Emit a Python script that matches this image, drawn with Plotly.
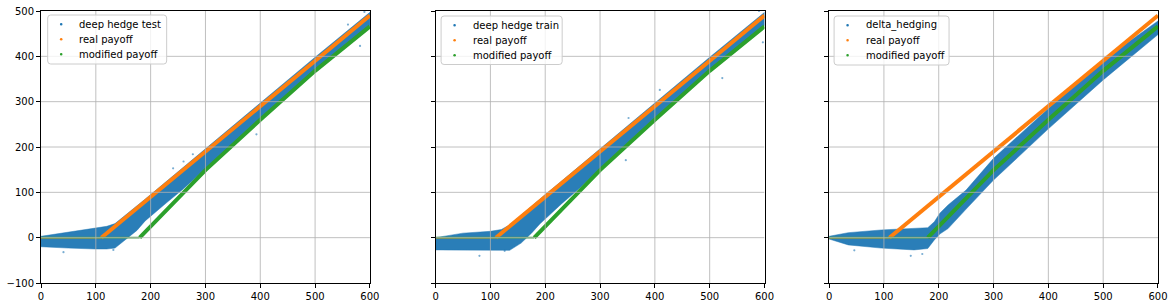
import plotly.graph_objects as go

# ---------------- data ----------------
X_TICKS = [0, 100, 200, 300, 400, 500, 600]
Y_TICKS = [-100, 0, 100, 200, 300, 400, 500]

TITLES = ["deep hedge test", "deep hedge train", "delta_hedging"]
SERIES_NAMES = ["real payoff", "modified payoff"]

# real payoff (orange)
REAL_X = [0, 110, 600]
REAL_Y = [0, 0, 490]

# modified payoff (green)
MOD_X = [0, 180, 200, 250, 300, 400, 500, 600]
MOD_Y = [0, 0, 25, 87, 149, 260, 368, 466]

# hedged P&L clouds: envelope of the blue scatter
TEST_X = [0, 50, 100, 120, 135, 156, 175, 190, 202, 230, 260, 300, 400, 500, 600]
TEST_UP = [3, 12, 20, 25, 31, 51, 70, 85, 97, 125, 155, 196, 297, 398, 497]
TEST_LO = [-20, -23, -25, -25, -23, -3, 16, 37, 50, 78, 108, 151, 262, 370, 468]
TEST_OUT_X = [241, 260, 277, 393, 582, 41, 132, 560, 590]
TEST_OUT_Y = [153, 168, 184, 228, 423, -32, -27, 470, 498]

TRAIN_X = [0, 50, 100, 120, 135, 156, 175, 190, 202, 230, 260, 300, 400, 500, 600]
TRAIN_UP = [0, 10, 14, 18, 28, 50, 70, 85, 97, 125, 155, 196, 297, 398, 497]
TRAIN_LO = [-27, -27, -27, -28, -28, -12, 10, 30, 45, 75, 106, 150, 262, 370, 468]
TRAIN_OUT_X = [80, 126, 347, 409, 352, 597, 523, 590]
TRAIN_OUT_Y = [-40, -29, 171, 326, 264, 431, 352, 500]

DELTA_X = [0, 35, 95, 155, 180, 192, 202, 217, 250, 300, 400, 500, 600]
DELTA_UP = [3, 11, 17, 21, 22, 35, 54, 72, 105, 175, 285, 392, 478]
DELTA_LO = [-3, -16, -23, -27, -24, -5, 8, 20, 63, 127, 240, 348, 448]
DELTA_OUT_X = [149, 46, 170]
DELTA_OUT_Y = [-40, -28, -36]

PANELS = [
    (TITLES[0], TEST_X, TEST_UP, TEST_LO, TEST_OUT_X, TEST_OUT_Y),
    (TITLES[1], TRAIN_X, TRAIN_UP, TRAIN_LO, TRAIN_OUT_X, TRAIN_OUT_Y),
    (TITLES[2], DELTA_X, DELTA_UP, DELTA_LO, DELTA_OUT_X, DELTA_OUT_Y),
]

# ---------------- styling / layout ----------------
BLUE = "#1f77b4"
ORANGE = "#ff7f0e"
GREEN = "#2ca02c"
FONT = "DejaVu Sans"

OFF = 0  # page body margin removed by the post script
W, H = 1174 - OFF, 307 - OFF
ML, MT = 41 - OFF, 11 - OFF
PR, PB = 1158.3 - OFF, 283 - OFF
MR, MB = W - PR, H - PB
PW, PH = W - ML - MR, H - MT - MB
PANEL_LEFT = [41, 435.7, 829.3]
PANEL_W = 329
DOMAINS = [[(l - OFF - ML) / PW, min(1.0, (l + PANEL_W - OFF - ML) / PW)] for l in PANEL_LEFT]

# legend boxes in screen pixels: left, top, right, bottom
LEG_BOX = [(47.7, 15, 166.7, 64), (441.2, 16, 562.3, 64.5), (834.3, 16, 949.3, 65)]


def px(sx):
    return (sx - OFF - ML) / PW


def py(sy):
    return 1 - (sy - OFF - MT) / PH


fig = go.Figure()
shapes = []
annotations = []
layout = {}

for i, (name, bx, up, lo, ox, oy) in enumerate(PANELS):
    n = "" if i == 0 else str(i + 1)
    xa, ya = "x" + n, "y" + n

    # blue cloud
    fig.add_trace(go.Scatter(
        x=list(bx) + list(bx)[::-1], y=list(up) + list(lo)[::-1],
        xaxis=xa, yaxis=ya, mode="lines", fill="toself", name=name,
        fillcolor="rgba(31,119,180,0.95)", line=dict(width=0.8, color="rgba(31,119,180,0.6)"),
        showlegend=False, hoverinfo="skip"))
    fig.add_trace(go.Scatter(
        x=ox, y=oy, xaxis=xa, yaxis=ya, mode="markers",
        marker=dict(size=2.2, color=BLUE, opacity=0.6),
        showlegend=False, hoverinfo="skip"))

    # real payoff
    fig.add_trace(go.Scatter(
        x=REAL_X[:2], y=REAL_Y[:2], xaxis=xa, yaxis=ya, mode="lines",
        line=dict(color=ORANGE, width=1.5), showlegend=False, hoverinfo="skip"))
    fig.add_trace(go.Scatter(
        x=REAL_X[1:], y=REAL_Y[1:], xaxis=xa, yaxis=ya, mode="lines", name=SERIES_NAMES[0],
        line=dict(color=ORANGE, width=4), showlegend=False, hoverinfo="skip"))

    # modified payoff
    fig.add_trace(go.Scatter(
        x=MOD_X[:2], y=MOD_Y[:2], xaxis=xa, yaxis=ya, mode="lines",
        line=dict(color="#4fa84f", width=1.8), showlegend=False, hoverinfo="skip"))
    fig.add_trace(go.Scatter(
        x=MOD_X[1:], y=MOD_Y[1:], xaxis=xa, yaxis=ya, mode="lines", name=SERIES_NAMES[1],
        line=dict(color=GREEN, width=4), showlegend=False, hoverinfo="skip"))

    axis_common = dict(
        showline=True, linecolor="black", linewidth=1, mirror=True,
        ticks="outside", ticklen=4, tickwidth=1, tickcolor="black",
        showgrid=False, zeroline=False, automargin=False, ticklabeloverflow="allow",
        tickfont=dict(family=FONT, size=10, color="black"),
    )
    layout["xaxis" + n] = dict(axis_common, domain=DOMAINS[i], range=[0, 600],
                               tickvals=X_TICKS, anchor=ya)
    layout["yaxis" + n] = dict(axis_common, domain=[0, 1], range=[-100, 500],
                               tickvals=Y_TICKS, anchor=xa, showticklabels=(i == 0))

    # grid lines drawn above the data, as in matplotlib
    for t in X_TICKS[1:-1]:
        shapes.append(dict(type="line", xref=xa, yref=ya, x0=t, x1=t, y0=-100, y1=500,
                           line=dict(color="#b0b0b0", width=0.8), layer="above"))
    for t in Y_TICKS[1:-1]:
        shapes.append(dict(type="line", xref=xa, yref=ya, x0=0, x1=600, y0=t, y1=t,
                           line=dict(color="#b0b0b0", width=0.8), layer="above"))

    # legend (matplotlib style: rounded frame, single dot per entry)
    l, t, r, b = LEG_BOX[i]
    rad = 3
    path = (f"M {px(l + rad)} {py(t)} L {px(r - rad)} {py(t)} Q {px(r)} {py(t)} {px(r)} {py(t + rad)} "
            f"L {px(r)} {py(b - rad)} Q {px(r)} {py(b)} {px(r - rad)} {py(b)} "
            f"L {px(l + rad)} {py(b)} Q {px(l)} {py(b)} {px(l)} {py(b - rad)} "
            f"L {px(l)} {py(t + rad)} Q {px(l)} {py(t)} {px(l + rad)} {py(t)} Z")
    shapes.append(dict(type="path", xref="paper", yref="paper", path=path,
                       fillcolor="rgba(255,255,255,0.8)", line=dict(color="#cccccc", width=1),
                       layer="above"))
    labels = [name] + SERIES_NAMES
    colors = [BLUE, ORANGE, GREEN]
    for k, (lab, col) in enumerate(zip(labels, colors)):
        cy = t + 9.3 + 15 * k
        cx = l + 13.5
        shapes.append(dict(type="circle", xref="paper", yref="paper",
                           x0=px(cx - 1.3), x1=px(cx + 1.3), y0=py(cy + 1.3), y1=py(cy - 1.3),
                           fillcolor=col, line=dict(width=0), layer="above"))
        annotations.append(dict(x=px(l + 30.5), y=py(cy), xref="paper", yref="paper",
                                text=lab, showarrow=False, xanchor="left", yanchor="middle",
                                font=dict(family=FONT, size=10, color="black"), borderpad=0))

fig.update_layout(
    width=W, height=H,
    margin=dict(l=ML, r=MR, t=MT, b=MB, autoexpand=False),
    plot_bgcolor="white", paper_bgcolor="white",
    font=dict(family=FONT, size=10, color="black"),
    showlegend=False,
    shapes=shapes,
    annotations=annotations,
    **layout,
)

fig.write_html(
    "out.html",
    config={"displayModeBar": False},
    post_script="document.body.style.margin='0';document.body.style.padding='0';"
                "document.body.style.overflow='hidden';",
)
